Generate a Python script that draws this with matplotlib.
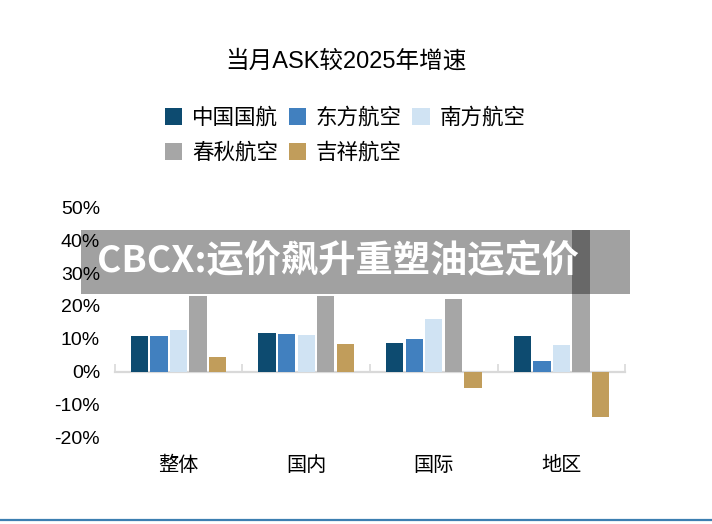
import numpy as np
import matplotlib
matplotlib.use("Agg")
import matplotlib.pyplot as plt
from matplotlib.patches import Rectangle
from matplotlib.ticker import FuncFormatter

plt.rcParams['font.family'] = ['Liberation Sans', 'Noto Sans CJK SC']

# ASK growth vs 2025, percent
categories = ["整体", "国内", "国际", "地区"]
airlines = ["中国国航", "东方航空", "南方航空", "春秋航空", "吉祥航空"]
air_china = [10.9, 11.7, 8.6, 10.9]
china_eastern = [10.9, 11.4, 9.9, 3.4]
china_southern = [12.6, 11.1, 16.1, 8.1]
spring = [23.0, 23.0, 22.0, 43.1]
juneyao = [4.4, 8.3, -5.0, -13.7]
series = [air_china, china_eastern, china_southern, spring, juneyao]
colors = ["#0d4b70", "#4180bf", "#d0e3f3", "#a6a6a6", "#c19d5b"]
yticks = [-20, -10, 0, 10, 20, 30, 40, 50]

W, H = 712, 524
fig = plt.figure(figsize=(W / 100, H / 100), dpi=100)
ax = fig.add_axes([114.6 / W, 1 - 437.5 / H, 510.8 / W, 230.3 / H])

x = np.arange(len(categories))
step, width = 0.153, 0.135
bars = []
for i, (vals, col, name) in enumerate(zip(series, colors, airlines)):
    bars.append(ax.bar(x + (i - 2) * step, vals, width=width, color=col, label=name, zorder=3))

ax.set_xlim(-0.5, 3.5)
ax.set_ylim(-20, 50)
ax.set_yticks(yticks)
ax.yaxis.set_major_formatter(FuncFormatter(lambda v, _: f"{v:.0f}%"))
ax.tick_params(axis='y', length=0, pad=10.5, labelsize=14)
ax.set_xticks(x)
ax.set_xticklabels(categories, fontsize=14.5)
ax.tick_params(axis='x', length=0, pad=13)
for s in ax.spines.values():
    s.set_visible(False)

# zero line with category separator ticks
zero = ax.secondary_xaxis(20 / 70)
zero.spines['bottom'].set_color("#d9d9d9")
zero.spines['bottom'].set_linewidth(1.6)
zero.set_xticks(np.arange(-0.5, 4, 1.0))
zero.tick_params(axis='x', direction='in', length=5.5, width=1.2, color="#d9d9d9", labelbottom=False)

fig.text(346 / W, 1 - 61 / H, "当月ASK较2025年增速", ha='center', va='center', fontsize=17)

# legend filled row by row (3 per row)
order = [0, 3, 1, 4, 2]
ax.legend([bars[i] for i in order], [airlines[i] for i in order],
          loc='upper left', bbox_to_anchor=(165 / W, 1 - 108 / H), bbox_transform=fig.transFigure,
          ncol=3, frameon=False, fontsize=15.5, handlelength=0.8, handleheight=0.8,
          handletextpad=0.45, columnspacing=0.5, labelspacing=0.64, borderpad=0, borderaxespad=0)

# overlay banner
fig.add_artist(Rectangle((81 / W, 1 - 294 / H), 549 / W, 64 / H, transform=fig.transFigure,
                         facecolor='black', alpha=0.37, edgecolor='none', zorder=5))
fig.text(97 / W, 1 - 262 / H, "CBCX:运价飙升重塑油运定价", ha='left', va='center', fontsize=26.8,
         fontweight='heavy', color='white', family=['Noto Sans CJK SC'], zorder=6)

fig.add_artist(plt.Line2D([0, 1], [1 - 520 / H, 1 - 520 / H], transform=fig.transFigure,
                          color="#3c7fb1", linewidth=1.6))

fig.savefig("out.png", dpi=100)
